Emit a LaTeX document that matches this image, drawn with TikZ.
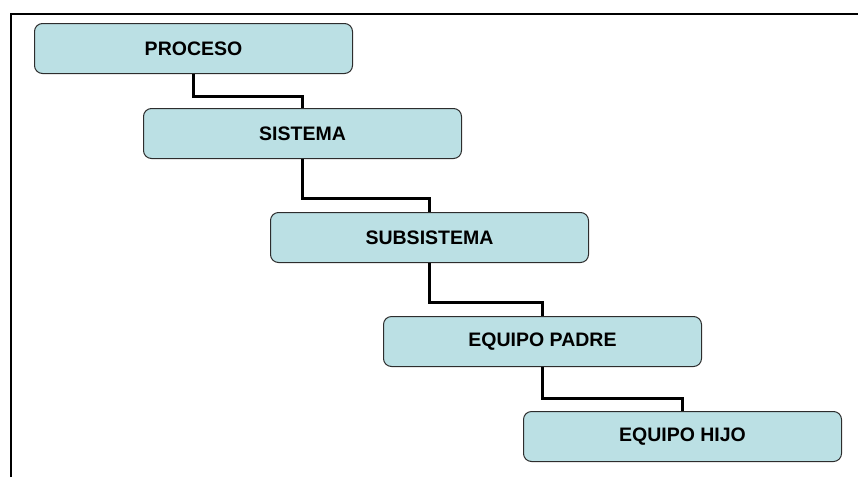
\documentclass[tikz,border=0pt]{standalone}
\usepackage{fontspec}
\setmainfont{Liberation Sans}
\usetikzlibrary{calc}
\definecolor{boxfill}{RGB}{187,224,228}
\definecolor{boxline}{RGB}{45,45,45}
\tikzset{
  box/.style={draw=boxline, line width=1pt, fill=boxfill, rounded corners=8pt,
    minimum width=318pt, minimum height=50pt, inner sep=0pt,
    font=\fontsize{19.5pt}{20pt}\selectfont\bfseries},
  link/.style={line width=3pt, draw=black}
}
\begin{document}
\begin{tikzpicture}[x=1pt,y=-1pt]
\useasboundingbox (0,0) rectangle (858,477);
\draw[line width=2pt] (10.5,477) -- (10.5,13.5) -- (858,13.5);
\node[box] (p) at (193.5,48.5) {PROCESO};
\node[box] (s) at (302.5,133.5) {SISTEMA};
\node[box] (ss) at (429.5,237.5) {SUBSISTEMA};
\node[box] (ep) at (542.5,341.5) {EQUIPO PADRE};
\node[box] (eh) at (682.5,436.5) {EQUIPO HIJO};
\coordinate (m1) at ($(s.north)+(0,-12)$);
\coordinate (m2) at ($(ss.north)+(0,-14)$);
\coordinate (m3) at ($(ep.north)+(0,-14)$);
\coordinate (m4) at ($(eh.north)+(0,-13)$);
\draw[link] (p.south) |- (m1) -- (s.north);
\draw[link] (s.south) |- (m2) -- (ss.north);
\draw[link] (ss.south) |- (m3) -- (ep.north);
\draw[link] (ep.south) |- (m4) -- (eh.north);
\end{tikzpicture}
\end{document}
